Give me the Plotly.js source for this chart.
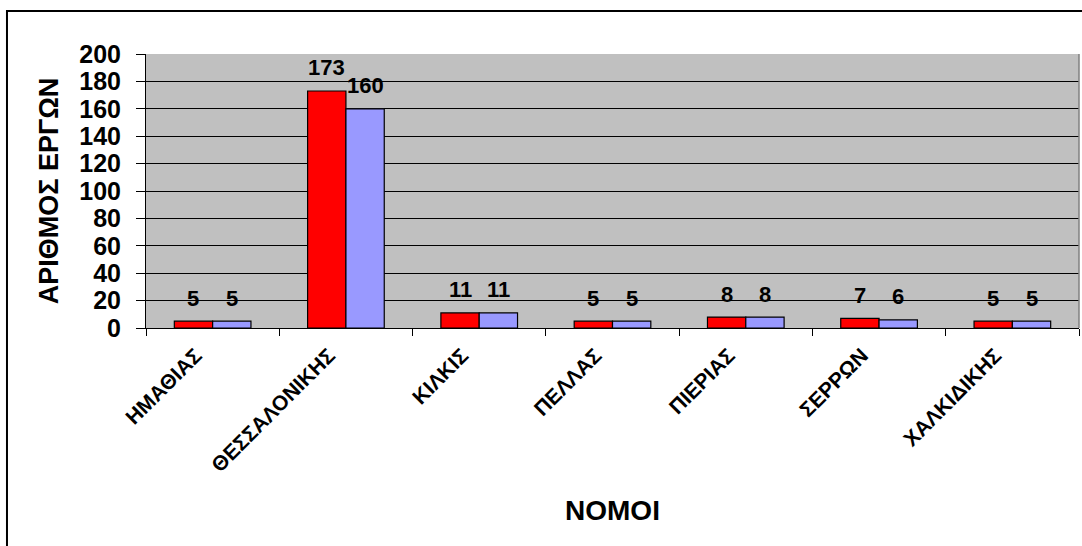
<!DOCTYPE html>
<html>
<head>
<meta charset="utf-8">
<script src="https://cdn.plot.ly/plotly-3.0.1.min.js"></script>
<style>
html,body{margin:0;padding:0;background:#fff;}
#chart{width:1082px;height:546px;}
</style>
</head>
<body>
<div id="chart"></div>
<script>
const categories = ['ΗΜΑΘΙΑΣ','ΘΕΣΣΑΛΟΝΙΚΗΣ','ΚΙΛΚΙΣ','ΠΕΛΛΑΣ','ΠΙΕΡΙΑΣ','ΣΕΡΡΩΝ','ΧΑΛΚΙΔΙΚΗΣ'];
const series1 = [5,173,11,5,8,7,5];
const series2 = [5,160,11,5,8,6,5];
const yTickVals = [0,20,40,60,80,100,120,140,160,180,200];

const FONT = 'Liberation Sans, Arial, sans-serif';

const traces = [
  {type:'bar', name:'Σειρά1', x:categories, y:series1,
   marker:{color:'#FF0000', line:{color:'#000000', width:1.2}}, hoverinfo:'x+y'},
  {type:'bar', name:'Σειρά2', x:categories, y:series2,
   marker:{color:'#9999FF', line:{color:'#000000', width:1.2}}, hoverinfo:'x+y'}
];

const barShift = 19.2;
const annotations = [];
categories.forEach((c,i)=>{
  annotations.push({x:c, y:series1[i], xref:'x', yref:'y', text:'<b>'+series1[i]+'</b>',
    showarrow:false, xshift:-barShift, yshift:23, yanchor:'middle',
    font:{family:FONT, size:22, color:'#000'}});
  annotations.push({x:c, y:series2[i], xref:'x', yref:'y', text:'<b>'+series2[i]+'</b>',
    showarrow:false, xshift:barShift, yshift:23, yanchor:'middle',
    font:{family:FONT, size:22, color:'#000'}});
});

const layout = {
  width:1082, height:546,
  margin:{l:146, r:3, t:54, b:218, pad:0},
  paper_bgcolor:'#FFFFFF',
  plot_bgcolor:'#C0C0C0',
  showlegend:false,
  barmode:'group',
  bargap:0.425,
  bargroupgap:0,
  font:{family:FONT, color:'#000'},
  xaxis:{
    type:'category',
    tickangle:-45,
    tickson:'boundaries',
    ticks:'outside', ticklen:7, tickcolor:'#000', tickwidth:1,
    ticklabelstandoff:6,
    ticklabelshift:-17,
    showline:true, linecolor:'#000', linewidth:1,
    showgrid:false, zeroline:false,
    tickfont:{family:FONT, size:21, color:'#000', weight:700},
    title:{text:'<b>ΝΟΜΟΙ</b>', font:{family:FONT, size:28, color:'#000'}, standoff:25},
    automargin:false
  },
  yaxis:{
    range:[0,200],
    tickvals:yTickVals,
    ticks:'outside', ticklen:9, tickcolor:'#000', tickwidth:1,
    ticklabelstandoff:10,
    showline:true, linecolor:'#000', linewidth:1,
    showgrid:true, gridcolor:'#000', gridwidth:1,
    zeroline:false,
    tickfont:{family:FONT, size:25, color:'#000', weight:700},
    title:{text:'<b>ΑΡΙΘΜΟΣ ΕΡΓΩΝ</b>', font:{family:FONT, size:27, color:'#000'}, standoff:12},
    automargin:false,
    fixedrange:true
  },
  shapes:[
    {type:'line', xref:'paper', yref:'paper', x0:1, x1:1, y0:0, y1:1,
     line:{color:'#808080', width:1.5}},
    {type:'rect', xref:'paper', yref:'paper', x0:-0.149, x1:1.2, y0:-1.5, y1:1.157,
     line:{color:'#000', width:2}, fillcolor:'rgba(0,0,0,0)', layer:'below'}
  ],
  annotations:annotations
};

Plotly.newPlot('chart', traces, layout, {displayModeBar:false, staticPlot:true});
</script>
</body>
</html>
